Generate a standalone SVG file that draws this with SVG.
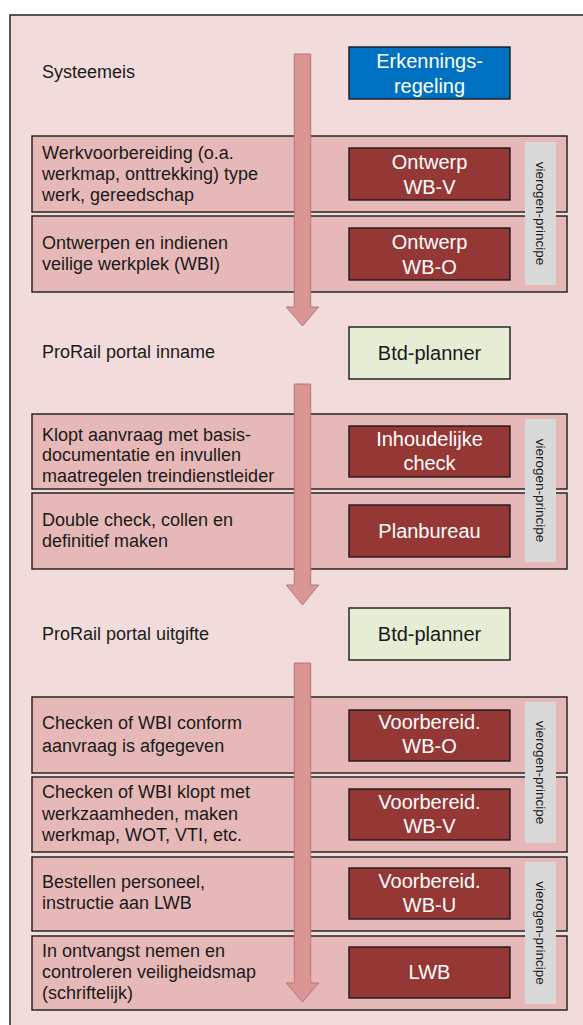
<svg xmlns="http://www.w3.org/2000/svg" width="583" height="1025" viewBox="0 0 583 1025">
<style>
text{font-family:"Liberation Sans",Arial,sans-serif}
.frame{fill:#f2dcdb;stroke:#222;stroke-width:1.5}
.row{fill:#e6b9b8;stroke:#1a1a1a;stroke-width:1.4}
.dark{fill:#953735;stroke:#1a1a1a;stroke-width:1.4}
.blue{fill:#0070c0;stroke:#1a1a1a;stroke-width:1.4}
.green{fill:#e5eed5;stroke:#1a1a1a;stroke-width:1.4}
.grey{fill:#d9d9d9}
.lbl{font-size:18px;fill:#1a1a1a}
.bt{font-size:20px;fill:#fff;text-anchor:middle}
.gt{font-size:20px;fill:#1a1a1a;text-anchor:middle}
.vt{font-size:13.5px;fill:#1a1a1a;text-anchor:middle;dominant-baseline:central}
.arrow{fill:#d99694;stroke:#b87573;stroke-width:1}
</style>
<rect class="frame" x="10" y="15" width="590" height="1030"/>

<g id="systeemeis"><text class="lbl" x="42" y="78">Systeemeis</text></g>
<g id="erkenning"><rect class="blue" x="349" y="47" width="161" height="52"/><text class="bt" x="429.5" y="67.5">Erkennings-</text><text class="bt" x="429.5" y="92.5">regeling</text></g>

<g id="row1"><rect class="row" x="32" y="136" width="535" height="76"/>
<text class="lbl" x="42" y="159">Werkvoorbereiding (o.a.</text><text class="lbl" x="42" y="180">werkmap, onttrekking) type</text><text class="lbl" x="42" y="201">werk, gereedschap</text>
<rect class="dark" x="349" y="148" width="161" height="52"/><text class="bt" x="429.5" y="168.5">Ontwerp</text><text class="bt" x="429.5" y="193.5">WB-V</text></g>
<g id="row2"><rect class="row" x="32" y="216" width="535" height="76"/>
<text class="lbl" x="42" y="248.5">Ontwerpen en indienen</text><text class="lbl" x="42" y="270">veilige werkplek (WBI)</text>
<rect class="dark" x="349" y="228" width="161" height="52"/><text class="bt" x="429.5" y="248.5">Ontwerp</text><text class="bt" x="429.5" y="273.5">WB-O</text></g>
<g id="vier1"><rect class="grey" x="525" y="142" width="31" height="143"/><text class="vt" transform="translate(540.5 213.5) rotate(90)">vierogen-principe</text></g>

<g id="inname"><text class="lbl" x="42" y="358">ProRail portal inname</text></g>
<g id="btd1"><rect class="green" x="349" y="327" width="161" height="52"/><text class="gt" x="429.5" y="360">Btd-planner</text></g>

<g id="row3"><rect class="row" x="32" y="414" width="535" height="75"/>
<text class="lbl" x="42" y="440.5">Klopt aanvraag met basis-</text><text class="lbl" x="42" y="461">documentatie en invullen</text><text class="lbl" x="42" y="481.5">maatregelen treindienstleider</text>
<rect class="dark" x="349" y="426" width="161" height="51"/><text class="bt" x="429.5" y="446">Inhoudelijke</text><text class="bt" x="429.5" y="470">check</text></g>
<g id="row4"><rect class="row" x="32" y="493" width="535" height="76"/>
<text class="lbl" x="42" y="526">Double check, collen en</text><text class="lbl" x="42" y="547">definitief maken</text>
<rect class="dark" x="349" y="505" width="161" height="52"/><text class="bt" x="429.5" y="538">Planbureau</text></g>
<g id="vier2"><rect class="grey" x="525" y="419" width="31" height="143"/><text class="vt" transform="translate(540.5 490.5) rotate(90)">vierogen-principe</text></g>

<g id="uitgifte"><text class="lbl" x="42" y="640">ProRail portal uitgifte</text></g>
<g id="btd2"><rect class="green" x="349" y="608" width="161" height="52"/><text class="gt" x="429.5" y="641">Btd-planner</text></g>

<g id="row5"><rect class="row" x="32" y="697" width="535" height="76"/>
<text class="lbl" x="42" y="729">Checken of WBI conform</text><text class="lbl" x="42" y="752">aanvraag is afgegeven</text>
<rect class="dark" x="349" y="710" width="161" height="51"/><text class="bt" x="429.5" y="728.5">Voorbereid.</text><text class="bt" x="429.5" y="753">WB-O</text></g>
<g id="row6"><rect class="row" x="32" y="777" width="535" height="75"/>
<text class="lbl" x="42" y="798">Checken of WBI klopt met</text><text class="lbl" x="42" y="819.5">werkzaamheden, maken</text><text class="lbl" x="42" y="841">werkmap, WOT, VTI, etc.</text>
<rect class="dark" x="349" y="789" width="161" height="51"/><text class="bt" x="429.5" y="808.5">Voorbereid.</text><text class="bt" x="429.5" y="833">WB-V</text></g>
<g id="vier3"><rect class="grey" x="525" y="702" width="31" height="141"/><text class="vt" transform="translate(540.5 772.5) rotate(90)">vierogen-principe</text></g>

<g id="row7"><rect class="row" x="32" y="857" width="535" height="74"/>
<text class="lbl" x="42" y="888">Bestellen personeel,</text><text class="lbl" x="42" y="909">instructie aan LWB</text>
<rect class="dark" x="349" y="868" width="161" height="51"/><text class="bt" x="429.5" y="887.5">Voorbereid.</text><text class="bt" x="429.5" y="912">WB-U</text></g>
<g id="row8"><rect class="row" x="32" y="936" width="535" height="74"/>
<text class="lbl" x="42" y="957">In ontvangst nemen en</text><text class="lbl" x="42" y="978">controleren veiligheidsmap</text><text class="lbl" x="42" y="998.5">(schriftelijk)</text>
<rect class="dark" x="349" y="947" width="161" height="51"/><text class="bt" x="429.5" y="979">LWB</text></g>
<g id="vier4"><rect class="grey" x="525" y="862" width="31" height="142"/><text class="vt" transform="translate(540.5 933) rotate(90)">vierogen-principe</text></g>

<g id="connectors">
<polygon class="arrow" points="294.3,54 310.7,54 310.7,307 318.7,307 302.5,326 286.3,307 294.3,307"/>
<polygon class="arrow" points="294.3,384 310.7,384 310.7,585 318.7,585 302.5,605 286.3,585 294.3,585"/>
<polygon class="arrow" points="294.3,663 310.7,663 310.7,983 318.7,983 302.5,1002 286.3,983 294.3,983"/>
</g>
</svg>
